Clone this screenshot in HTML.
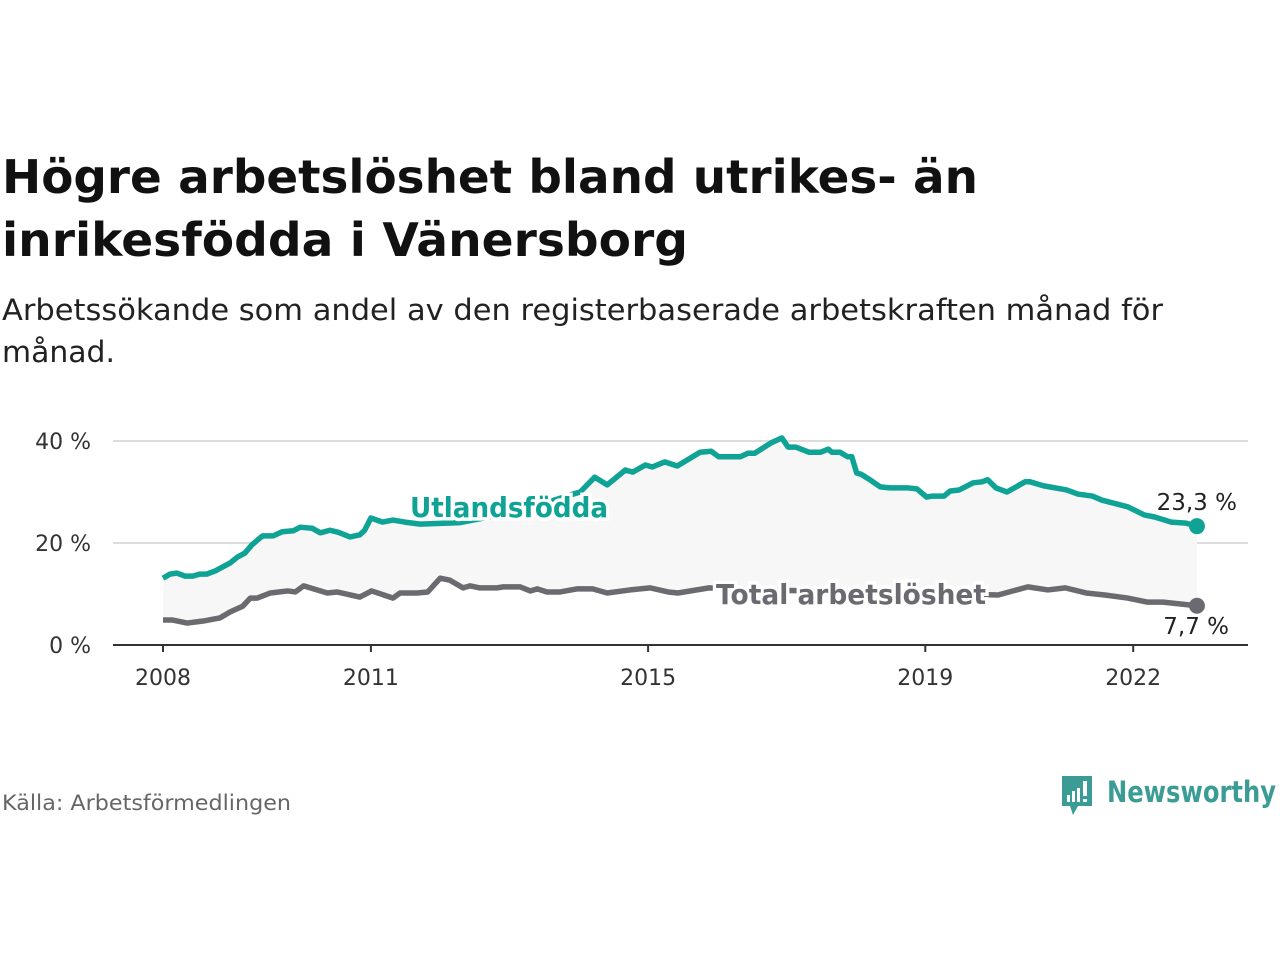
<!DOCTYPE html>
<html><head><meta charset="utf-8"><style>
body{margin:0;background:#fff;width:1280px;height:960px;overflow:hidden}
svg text{font-family:"DejaVu Sans","Liberation Sans",sans-serif}
</style></head><body>
<svg id="chart" width="1280" height="960" xmlns="http://www.w3.org/2000/svg">
<text x="2" y="193" font-size="46" font-weight="bold" fill="#111" textLength="976" lengthAdjust="spacingAndGlyphs">Högre arbetslöshet bland utrikes- än</text>
<text x="2" y="256" font-size="46" font-weight="bold" fill="#111" textLength="686" lengthAdjust="spacingAndGlyphs">inrikesfödda i Vänersborg</text>
<text x="2" y="320" font-size="29" fill="#222" textLength="1161" lengthAdjust="spacingAndGlyphs">Arbetssökande som andel av den registerbaserade arbetskraften månad för</text>
<text x="2" y="362" font-size="29" fill="#222" textLength="113" lengthAdjust="spacingAndGlyphs">månad.</text>
<g id="plot"></g>
<text x="2" y="810" font-size="21" fill="#666" textLength="289" lengthAdjust="spacingAndGlyphs">Källa: Arbetsförmedlingen</text>
<g>
<path d="M1062 776 h30 v30 h-14 l-5 9 l-3 -9 h-8 z" fill="#3a9c94"/>
<rect x="1067" y="795" width="3" height="7" fill="#fff"/><rect x="1072" y="791" width="3" height="11" fill="#fff"/><rect x="1077" y="788" width="3" height="14" fill="#fff"/><rect x="1083" y="781" width="4" height="15" fill="#fff"/><rect x="1083" y="799" width="4" height="3" fill="#fff"/>
<text x="1107" y="802" font-size="29" font-weight="bold" fill="#3a9c94" font-family="Liberation Sans" textLength="169" lengthAdjust="spacingAndGlyphs">Newsworthy</text>
</g>
</svg>
<script>
const tealYears=[0,0.10,0.20,0.32,0.43,0.53,0.63,0.75,0.97,1.08,1.18,1.28,1.40,1.44,1.59,1.72,1.88,1.98,2.15,2.27,2.41,2.53,2.70,2.84,2.91,3.00,3.17,3.32,3.49,3.71,4.29,4.86,5.44,5.87,6.02,6.23,6.41,6.67,6.78,6.96,7.06,7.24,7.42,7.52,7.75,7.91,8.02,8.33,8.44,8.54,8.77,8.93,9.02,9.13,9.32,9.49,9.60,9.65,9.77,9.88,9.94,10.01,10.07,10.19,10.35,10.49,10.76,10.88,11.02,11.10,11.27,11.36,11.49,11.69,11.82,11.90,12.02,12.18,12.44,12.51,12.71,13.04,13.20,13.41,13.55,13.92,14.16,14.31,14.55,14.76,14.92];
const tealValues=[13.1,13.9,14.1,13.5,13.5,13.9,13.9,14.5,16.1,17.3,18.0,19.6,21.0,21.4,21.4,22.2,22.4,23.1,22.9,22.0,22.5,22.1,21.2,21.6,22.5,24.9,24.1,24.5,24.1,23.7,24.0,25.5,27.5,29.4,30.0,32.9,31.4,34.3,33.9,35.3,34.9,35.9,35.1,35.9,37.8,38.0,36.9,36.9,37.6,37.6,39.6,40.6,38.8,38.8,37.8,37.8,38.4,37.8,37.8,36.9,36.9,33.7,33.5,32.5,31.0,30.8,30.8,30.6,29.0,29.2,29.2,30.2,30.4,31.8,32.0,32.4,30.8,30.0,32.0,32.0,31.2,30.4,29.6,29.2,28.4,27.1,25.5,25.1,24.1,23.9,23.3];
const grayYears=[0,0.14,0.35,0.58,0.82,0.97,1.15,1.26,1.36,1.55,1.80,1.91,2.03,2.37,2.51,2.84,3.01,3.32,3.42,3.67,3.82,4.00,4.14,4.33,4.43,4.57,4.82,4.91,5.15,5.30,5.40,5.54,5.73,5.97,6.20,6.41,6.74,7.03,7.29,7.43,7.88,8.5,9.5,10.5,11.5,12.05,12.48,12.77,13.02,13.32,13.59,13.92,14.21,14.43,14.92];
const grayValues=[4.9,4.9,4.3,4.7,5.3,6.5,7.6,9.2,9.2,10.2,10.6,10.4,11.6,10.2,10.4,9.4,10.6,9.2,10.2,10.2,10.4,13.1,12.7,11.2,11.6,11.2,11.2,11.4,11.4,10.6,11.0,10.4,10.4,11.0,11.0,10.2,10.8,11.2,10.4,10.2,11.2,10.8,10.6,10.2,10.0,9.8,11.4,10.8,11.2,10.2,9.8,9.2,8.4,8.4,7.7];
const yTicks=[0,20,40];
const yTickLabels=["0 %","20 %","40 %"];
const xTicks=[2008,2011,2015,2019,2022];
const endLabels=["23,3 %","7,7 %"];

const NS="http://www.w3.org/2000/svg";
const g=document.getElementById('plot');
const X=t=>163+(t-2008)*69.3;
const Y=v=>645-v*5.1;
function el(tag,attrs,parent){const e=document.createElementNS(NS,tag);for(const k in attrs)e.setAttribute(k,attrs[k]);(parent||g).appendChild(e);return e;}

yTicks.forEach((v,i)=>{
  if(v>0){const l=el('line',{x1:113,x2:1248,y1:Y(v),y2:Y(v),stroke:'#ddd','stroke-width':2});
  
  }
  const t=el('text',{x:91,y:Y(v)+8,'font-size':22,fill:'#333','text-anchor':'end'});
  t.textContent=yTickLabels[i];
  
  
});
let d='';
tealYears.forEach((t,i)=>{d+=(i?'L':'M')+X(2008+t)+' '+Y(tealValues[i]);});
for(let i=grayYears.length-1;i>=0;i--)d+='L'+X(2008+grayYears[i])+' '+Y(grayValues[i]);
const area=el('path',{d:d+'Z',fill:'#f7f7f7'});


const axis=el('line',{x1:113,x2:1248,y1:645,y2:645,stroke:'#333','stroke-width':2});


xTicks.forEach(yr=>{
  const tk=el('line',{x1:X(yr),x2:X(yr),y1:645,y2:652,stroke:'#333','stroke-width':2});
  
  
  const t=el('text',{x:X(yr),y:685,'font-size':22,fill:'#333','text-anchor':'middle'});
  t.textContent=yr;
  
  
});
function line(ys,vs,color,name){
  let p='';ys.forEach((t,i)=>{p+=(i?'L':'M')+X(2008+t)+' '+Y(vs[i]);});
  const l=el('path',{d:p,fill:'none',stroke:color,'stroke-width':5.5,'stroke-linejoin':'round'});
  
  
  const n=ys.length-1;
  const c=el('circle',{cx:X(2008+ys[n]),cy:Y(vs[n]),r:8,fill:color});
  
  
}
line(grayYears,grayValues,'#6b6a70','total-line');
line(tealYears,tealValues,'#0fa396','utlandsfodda-line');
function lab(x,y,txt,color,name,w){
  const t=el('text',{x:x,y:y,'font-size':28,'font-weight':'bold',fill:color,stroke:'#fff','stroke-width':7,'paint-order':'stroke','textLength':w,lengthAdjust:'spacingAndGlyphs'});
  t.textContent=txt;
  
  
}
lab(410,517,'Utlandsfödda','#0fa396','utlandsfodda-label',198);
lab(716,604,'Total arbetslöshet','#6b6a70','total-label',270);
const e1=el('text',{x:1237,y:510,'font-size':23,fill:'#222','text-anchor':'end'});
e1.textContent=endLabels[0];


const e2=el('text',{x:1229,y:634,'font-size':23,fill:'#222','text-anchor':'end'});
e2.textContent=endLabels[1];


</script>
</body></html>
